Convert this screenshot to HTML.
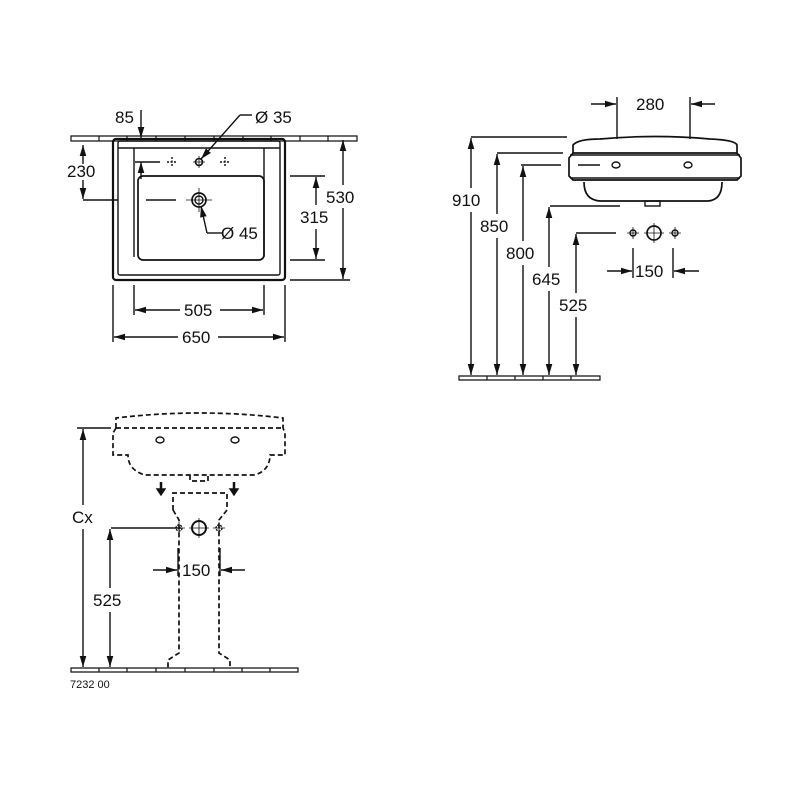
<!DOCTYPE html>
<html><head><meta charset="utf-8"><style>
html,body{margin:0;padding:0;background:#fff;}
svg{display:block;}
text{font-family:"Liberation Sans",sans-serif;font-size:17px;fill:#111;}
</style></head><body>
<svg width="800" height="800" viewBox="0 0 800 800" xmlns="http://www.w3.org/2000/svg">
<defs>
<marker id="a" viewBox="0 0 10 10" refX="10" refY="5" markerWidth="8" markerHeight="8" orient="auto-start-reverse"><path d="M0,2 L10,5 L0,8 z" fill="#111"/></marker>
</defs>
<g stroke="#111" fill="none" stroke-width="1.4">
<!-- TOP LEFT VIEW -->
<g stroke-width="1.2">
<path d="M71,136 H357 V141 H71 Z"/>
<path d="M99,136v5M127,136v5M156,136v5M185,136v5M214,136v5M243,136v5M271,136v5M300,136v5M328,136v5"/>
</g>
<rect x="113" y="139" width="172" height="141" rx="3" stroke-width="2.2"/>
<rect x="118" y="141" width="162" height="134" rx="2"/>
<line x1="118" y1="148" x2="280" y2="148"/>
<path d="M134,148 V257 M264,148 V257"/>
<rect x="138" y="176" width="126" height="84" rx="5" stroke-width="1.7"/>
<circle cx="199" cy="200" r="7" stroke-width="1.7"/><circle cx="199" cy="200" r="4"/>
<path d="M186,200h26M199,188v24" stroke-width="0.8"/>
<circle cx="199" cy="162" r="3.5" stroke-width="1.6"/>
<path d="M193,162h12M199,156v12" stroke-width="0.8"/>
<path d="M167,162h10M172,157v10M220,162h10M225,157v10" stroke-dasharray="2,1.5"/>
<path d="M135,162h25M83,200h35M146,200h30"/>
<line x1="83" y1="145" x2="83" y2="164" marker-start="url(#a)"/>
<line x1="83" y1="180" x2="83" y2="199" marker-end="url(#a)"/>
<line x1="141" y1="110" x2="141" y2="138" marker-end="url(#a)"/>
<line x1="141" y1="179" x2="141" y2="162" marker-end="url(#a)"/>
<line x1="343" y1="140" x2="343" y2="185" marker-start="url(#a)"/>
<line x1="343" y1="208" x2="343" y2="279" marker-end="url(#a)"/>
<path d="M290,280h60M290,176h35M290,260h35"/>
<line x1="316" y1="177" x2="316" y2="205" marker-start="url(#a)"/>
<line x1="316" y1="229" x2="316" y2="259" marker-end="url(#a)"/>
<path d="M134,285v30M264,285v30M113,285v57M285,285v57"/>
<line x1="135" y1="310" x2="180" y2="310" marker-start="url(#a)"/>
<line x1="220" y1="310" x2="263" y2="310" marker-end="url(#a)"/>
<line x1="114" y1="337" x2="178" y2="337" marker-start="url(#a)"/>
<line x1="218" y1="337" x2="284" y2="337" marker-end="url(#a)"/>
<path d="M252,115h-12"/>
<line x1="240" y1="115" x2="201" y2="159" marker-end="url(#a)"/>
<line x1="207" y1="233" x2="201" y2="206" marker-end="url(#a)"/>
<path d="M207,233h15"/>

<!-- RIGHT VIEW -->
<line x1="591" y1="104" x2="616" y2="104" marker-end="url(#a)"/>
<line x1="715" y1="104" x2="691" y2="104" marker-end="url(#a)"/>
<path d="M617,97v42M690,97v42"/>
<path d="M573,145 Q578,139 600,139 Q655,134 710,139 Q735,140 737,145 V153 H573 Z" stroke-width="1.7"/>
<path d="M573,153 L569,158 V176 L573,180 H737 L741,176 V158 L737,153" stroke-width="1.7"/>
<line x1="570" y1="155" x2="740" y2="155"/>
<line x1="570" y1="178" x2="740" y2="178"/>
<path d="M584,182 Q584,200 600,201 H708 Q722,200 722,182" stroke-width="1.7"/>
<rect x="645" y="201" width="15" height="5"/>
<ellipse cx="616" cy="165" rx="4" ry="3"/><ellipse cx="688" cy="165" rx="4" ry="3"/>
<path d="M578,165h22"/>
<path d="M459,376 H600 V380 H459 Z M487,376v4M515,376v4M543,376v4M571,376v4" stroke-width="1.2"/>
<path d="M471,137h96M497,153h66M521,165h40M550,206h70M576,233h40"/>
<line x1="471" y1="138" x2="471" y2="188" marker-start="url(#a)"/>
<line x1="471" y1="212" x2="471" y2="375" marker-end="url(#a)"/>
<line x1="497" y1="154" x2="497" y2="214" marker-start="url(#a)"/>
<line x1="497" y1="238" x2="497" y2="375" marker-end="url(#a)"/>
<line x1="523" y1="166" x2="523" y2="241" marker-start="url(#a)"/>
<line x1="523" y1="265" x2="523" y2="375" marker-end="url(#a)"/>
<line x1="549" y1="207" x2="549" y2="267" marker-start="url(#a)"/>
<line x1="549" y1="291" x2="549" y2="375" marker-end="url(#a)"/>
<line x1="576" y1="234" x2="576" y2="293" marker-start="url(#a)"/>
<line x1="576" y1="317" x2="576" y2="375" marker-end="url(#a)"/>
<circle cx="654" cy="233" r="7" stroke-width="1.7"/><path d="M644,233h20M654,223v20" stroke-width="0.8"/>
<circle cx="633" cy="233" r="3"/><path d="M627,233h12M633,227v12" stroke-width="0.8"/>
<circle cx="675" cy="233" r="3"/><path d="M669,233h12M675,227v12" stroke-width="0.8"/>
<path d="M633,248v30M673,248v30"/>
<line x1="607" y1="271" x2="632" y2="271" marker-end="url(#a)"/>
<line x1="699" y1="271" x2="674" y2="271" marker-end="url(#a)"/>

<!-- BOTTOM VIEW -->
<g stroke-dasharray="5,3" stroke-width="1.7">
<path d="M116,428 V418 Q200,408 283,418 V428"/>
<path d="M116,428 H283"/>
<path d="M116,428 L113,433 V455 H128 Q128,470 145,475 H255 Q270,470 270,455 H285 V433 L283,428"/>
<path d="M190,475 V481 H208 V475"/>
<path d="M173,510 L173,493 H227 V510 L219,520 V653 L230,660 V668 M173,510 L179,520 V653 L168,660 V668"/>
</g>
<ellipse cx="160" cy="440" rx="4" ry="3"/><ellipse cx="235" cy="440" rx="4" ry="3"/>
<path d="M161,482v8M234,482v8" stroke-width="2.5"/>
<path d="M157,489l4,6l4,-6zM230,489l4,6l4,-6z" fill="#111"/>
<circle cx="199" cy="528" r="7" stroke-width="2"/><path d="M189,528h20M199,518v20" stroke-width="0.8"/>
<circle cx="179" cy="528" r="3" stroke-dasharray="2,1"/><path d="M173,528h12M179,522v12" stroke-width="0.8"/>
<circle cx="219" cy="528" r="3" stroke-dasharray="2,1"/><path d="M213,528h12M219,522v12" stroke-width="0.8"/>
<path d="M178,548v28M220,548v28"/>
<line x1="153" y1="570" x2="177" y2="570" marker-end="url(#a)"/>
<line x1="245" y1="570" x2="221" y2="570" marker-end="url(#a)"/>
<path d="M71,668 H298 V672 H71 Z M99,668v4M127,668v4M156,668v4M185,668v4M214,668v4M242,668v4M270,668v4" stroke-width="1.2"/>
<path d="M77,428h34M111,528h70"/>
<line x1="83" y1="429" x2="83" y2="505" marker-start="url(#a)"/>
<line x1="83" y1="529" x2="83" y2="667" marker-end="url(#a)"/>
<line x1="110" y1="529" x2="110" y2="588" marker-start="url(#a)"/>
<line x1="110" y1="612" x2="110" y2="667" marker-end="url(#a)"/>
</g>
<text x="115" y="123">85</text>
<text x="255" y="123">Ø 35</text>
<text x="67" y="177">230</text>
<text x="326" y="203">530</text>
<text x="300" y="223">315</text>
<text x="221" y="239">Ø 45</text>
<text x="184" y="316">505</text>
<text x="182" y="343">650</text>
<text x="636" y="110">280</text>
<text x="452" y="206">910</text>
<text x="480" y="232">850</text>
<text x="506" y="259">800</text>
<text x="532" y="285">645</text>
<text x="559" y="311">525</text>
<text x="635" y="277">150</text>
<text x="72" y="523">Cx</text>
<text x="93" y="606">525</text>
<text x="182" y="576">150</text>
<text x="70" y="688" style="font-size:11px">7232 00</text>
</svg>
</body></html>
